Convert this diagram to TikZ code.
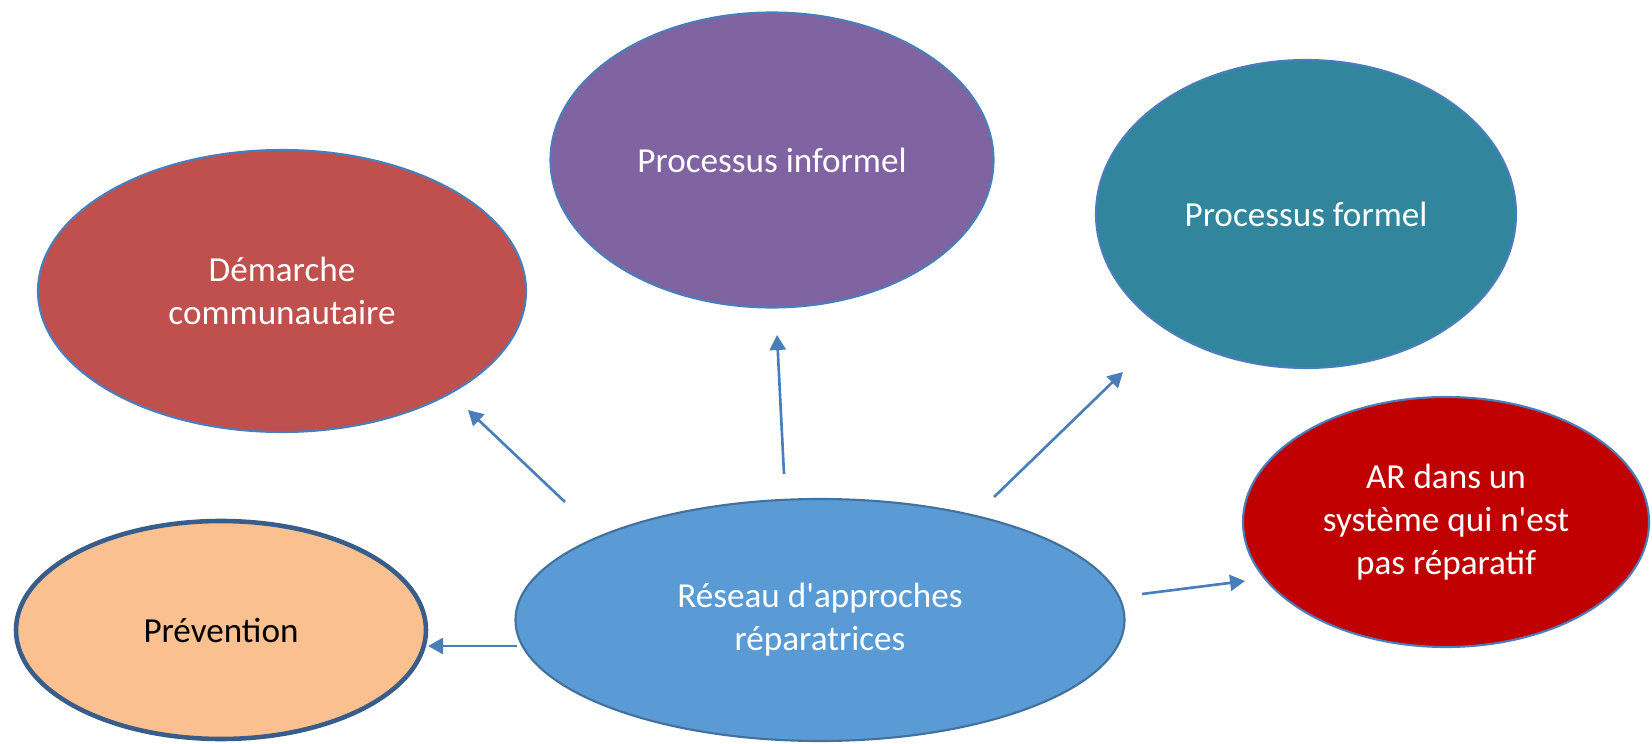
\documentclass[tikz,border=0pt]{standalone}
\usepackage{fontspec}
\setmainfont{Carlito}[Ligatures=TeXOff]
\usepackage{xcolor}
\usepackage{tikz}
\usetikzlibrary{arrows.meta,positioning,shapes.geometric}
\definecolor{bordblue}{HTML}{4A7EBB}
\definecolor{arrowblue}{HTML}{4A7EBB}
\definecolor{demred}{HTML}{C0504D}
\definecolor{infviolet}{HTML}{8064A2}
\definecolor{formteal}{HTML}{31859C}
\definecolor{arred}{HTML}{C00000}
\definecolor{prevorange}{HTML}{FAC090}
\definecolor{prevborder}{HTML}{385D8A}
\definecolor{resblue}{HTML}{5B9BD5}
\definecolor{resborder}{HTML}{41719C}
\tikzset{
	>=latex,
	bubble/.style = {
			ellipse,
			draw            = bordblue,
			line width      = 1.2pt,
			inner sep       = 0pt,
			align           = center,
			text            = white,
			font            = \fontsize{20}{24.4}\selectfont,
		}
}

\begin{document}
\begin{tikzpicture}
	[font=\fontsize{20}{24.4}\selectfont,
		% STYLES
		% The link style is used for the arrows leaving the network
		link/.style={draw=arrowblue, line width=1.5pt,
				-{Triangle[length=0.3cm, width=0.32cm]}}]

	\useasboundingbox (0,0) rectangle (33.04,14.86);

	% Draw bubbles
	\node [bubble, fill=demred, minimum width=9.76cm, minimum height=5.64cm]
	(dem) at (5.64,9.04) {Démarche\\communautaire};
	\node [bubble, fill=infviolet, minimum width=8.86cm, minimum height=5.9cm]
	(inf) at (15.44,11.66) {Processus informel};
	\node [bubble, fill=formteal, minimum width=8.4cm, minimum height=6.16cm]
	(form) at (26.12,10.58) {Processus formel};
	\node [bubble, fill=arred, minimum width=8.12cm, minimum height=5cm]
	(ar) at (28.92,4.42) {AR dans un\\système qui n'est\\pas réparatif};
	\node [bubble, fill=prevorange, draw=prevborder, line width=2.6pt,
		text=black, minimum width=8.2cm, minimum height=4.36cm]
	(prev) at (4.42,2.26) {Prévention};
	\node [bubble, fill=resblue, draw=resborder, minimum width=12.18cm,
		minimum height=4.84cm]
	(res) at (16.40,2.46) {Réseau d'approches\\réparatrices};

	%%%%%%%%%%%%%%%
	% Arrow ends

	\coordinate (dem-s) at (11.30,4.82);
	\coordinate (dem-e) at (9.36,6.66);
	\coordinate (inf-s) at (15.68,5.38);
	\coordinate (inf-e) at (15.54,8.16);
	\coordinate (form-s) at (19.88,4.92);
	\coordinate (form-e) at (22.46,7.42);
	\coordinate (ar-s) at (22.84,2.98);
	\coordinate (ar-e) at (24.90,3.24);
	\coordinate (prev-s) at (10.34,1.94);
	\coordinate (prev-e) at (8.56,1.94);

	\draw[link] (dem-s) -- (dem-e);
	\draw[link] (inf-s) -- (inf-e);
	\draw[link] (form-s) -- (form-e);
	\draw[link] (ar-s) -- (ar-e);
	\draw[link] (prev-s) -- (prev-e);

\end{tikzpicture}
\end{document}
